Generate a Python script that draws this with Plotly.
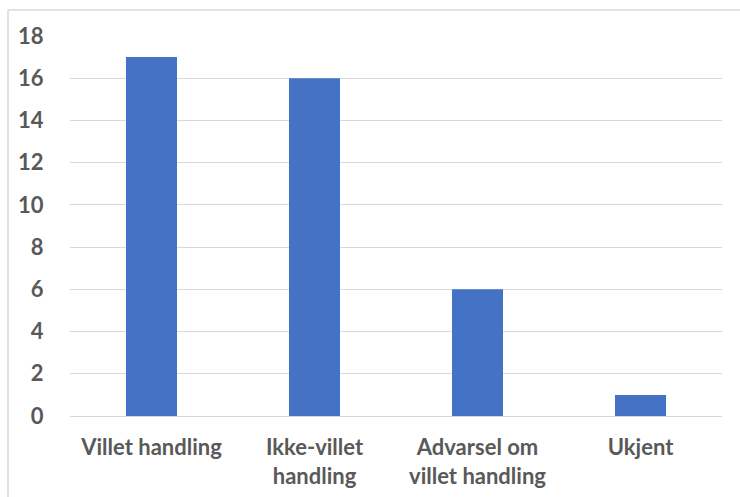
import plotly.graph_objects as go

# Chart data
categories = ["Villet handling", "Ikke-villet<br>handling", "Advarsel om<br>villet handling", "Ukjent"]
counts = [17, 16, 6, 1]
y_ticks = [0, 2, 4, 6, 8, 10, 12, 14, 16, 18]

W, H = 740, 497
L, R, T, B = 70, 18, 36, 81
pw, ph = W - L - R, H - T - B

text_color = "#595959"
grid_color = "#d9d9d9"
font_family = "Lato, 'Open Sans', sans-serif"
font_size = 22

fig = go.Figure(
    go.Bar(
        x=categories,
        y=counts,
        marker=dict(color="#4472C4", line=dict(width=0)),
        width=0.313,
    )
)

fig.update_layout(
    width=W,
    height=H,
    margin=dict(l=L, r=R, t=T, b=B),
    paper_bgcolor="white",
    plot_bgcolor="white",
    showlegend=False,
    font=dict(family=font_family, size=font_size, color=text_color, weight="bold"),
    xaxis=dict(
        showgrid=False,
        showline=True,
        linecolor=grid_color,
        linewidth=1,
        ticks="outside",
        ticklen=12,
        tickcolor="rgba(0,0,0,0)",
        tickfont=dict(family=font_family, size=font_size, color=text_color, weight="bold"),
        automargin=False,
        fixedrange=True,
    ),
    yaxis=dict(
        range=[0, 18],
        tickvals=y_ticks,
        showgrid=True,
        gridcolor=grid_color,
        gridwidth=1,
        zeroline=False,
        showline=False,
        ticks="outside",
        ticklen=21,
        tickcolor="rgba(0,0,0,0)",
        tickfont=dict(family=font_family, size=font_size, color=text_color, weight="bold"),
        automargin=False,
        fixedrange=True,
    ),
    shapes=[
        # chart frame
        dict(
            type="rect",
            xref="paper",
            yref="paper",
            x0=(8 - L) / pw,
            x1=(W + 5 - L) / pw,
            y0=-(H + 5 - T - ph) / ph,
            y1=(H - 10 - B) / ph,
            line=dict(color="#d9d9d9", width=1.5),
            fillcolor="rgba(0,0,0,0)",
            layer="below",
        )
    ],
)

fig.write_html("out.html")
